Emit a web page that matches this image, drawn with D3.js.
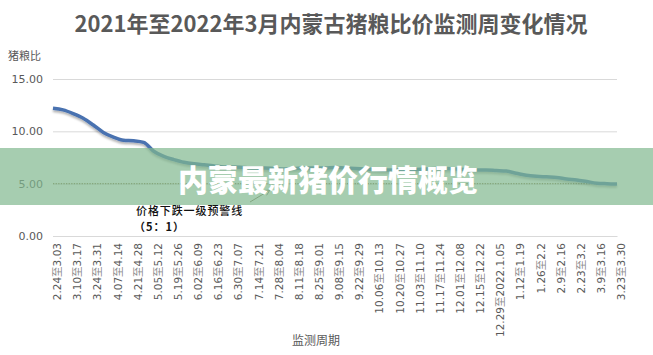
<!DOCTYPE html>
<html>
<head>
<meta charset="utf-8">
<script src="https://cdn.jsdelivr.net/npm/d3@7"></script>
<style>
  html, body { margin: 0; padding: 0; background: #fff; }
  svg { display: block; }
</style>
</head>
<body>
<svg id="chart" width="653" height="355"></svg>
<script>
// Weekly monitoring periods, 2021-02-24 to 2022-03-30
const weeks = [
  "2.24至3.03", "3.03至3.10", "3.10至3.17", "3.17至3.24", "3.24至3.31", "3.31至4.07",
  "4.07至4.14", "4.14至4.21", "4.21至4.28", "4.28至5.05", "5.05至5.12", "5.12至5.19",
  "5.19至5.26", "5.26至6.02", "6.02至6.09", "6.09至6.16", "6.16至6.23", "6.23至6.30",
  "6.30至7.07", "7.07至7.14", "7.14至7.21", "7.21至7.28", "7.28至8.04", "8.04至8.11",
  "8.11至8.18", "8.18至8.25", "8.25至9.01", "9.01至9.08", "9.08至9.15", "9.15至9.22",
  "9.22至9.29", "9.29至10.06", "10.06至10.13", "10.13至10.20", "10.20至10.27", "10.27至11.03",
  "11.03至11.10", "11.10至11.17", "11.17至11.24", "11.24至12.01", "12.01至12.08", "12.08至12.15",
  "12.15至12.22", "12.22至12.29", "12.29至2022.1.05", "1.05至1.12", "1.12至1.19", "1.19至1.26",
  "1.26至2.2", "2.2至2.9", "2.9至2.16", "2.16至2.23", "2.23至3.2", "3.2至3.9",
  "3.9至3.16", "3.16至3.23", "3.23至3.30"
];

// Hog-to-grain price ratio per week
const ratio = [
  12.2, 12.05, 11.7, 11.25, 10.6, 9.9,
  9.45, 9.15, 9.1, 8.95, 8.1, 7.6,
  7.3, 7.05, 6.9, 6.8, 6.7, 6.6,
  6.6, 6.55, 6.5, 6.5, 6.45, 6.4,
  6.45, 6.5, 6.5, 6.5, 6.55, 6.5,
  6.45, 6.4, 6.35, 6.3, 6.3, 6.3,
  6.35, 6.4, 6.45, 6.45, 6.4, 6.35,
  6.3, 6.3, 6.25, 6.2, 6.0, 5.8,
  5.7, 5.65, 5.6, 5.45, 5.35, 5.2,
  5.05, 5.0, 4.97
];

// First-level price-decline warning line (5:1)
const warningLevel = 5;

// Axis ticks
const yTicks = [0, 5, 10, 15];
const xTickLabels = weeks.filter((d, i) => i % 2 === 0);

const title = "2021年至2022年3月内蒙古猪粮比价监测周变化情况";
const yAxisTitle = "猪粮比";
const xAxisTitle = "监测周期";
const warningText = ["价格下跌一级预警线", "（5：1）"];
const bannerText = "内蒙最新猪价行情概览";

const svg = d3.select("#chart");
const W = 653, H = 355;
const cjk = "'Noto Sans CJK SC', 'Noto Sans', sans-serif";
const latin = "'DejaVu Sans', 'Noto Sans CJK SC', sans-serif";

const x = d3.scalePoint().domain(weeks).range([53, 617]);
const y = d3.scaleLinear().domain([0, 15]).range([236, 79]);

const defs = svg.append("defs");
const shadow = defs.append("filter").attr("id", "lineShadow")
  .attr("x", "-5%").attr("y", "-20%").attr("width", "110%").attr("height", "140%");
shadow.append("feDropShadow").attr("dx", 0).attr("dy", 2).attr("stdDeviation", 1.2)
  .attr("flood-color", "#000").attr("flood-opacity", 0.3);

const marker = defs.append("marker").attr("id", "arrow")
  .attr("viewBox", "0 0 10 10").attr("refX", 9).attr("refY", 5)
  .attr("markerWidth", 7).attr("markerHeight", 7).attr("orient", "auto");
marker.append("path").attr("d", "M1,1 L9,5 L1,9").attr("fill", "none")
  .attr("stroke", "#8a7d62").attr("stroke-width", 1.2);

// Title
svg.append("text")
  .attr("x", 331).attr("y", 32)
  .attr("text-anchor", "middle")
  .attr("font-family", cjk).attr("font-weight", 700).attr("font-size", 22)
  .attr("fill", "#595959")
  .text(title);

// Y axis title
svg.append("text")
  .attr("x", 8).attr("y", 60)
  .attr("font-family", cjk).attr("font-size", 11)
  .attr("fill", "#595959")
  .text(yAxisTitle);

// Y axis with gridlines
const yAxis = svg.append("g")
  .attr("transform", "translate(53,0)")
  .call(d3.axisLeft(y).tickValues(yTicks).tickFormat(d3.format(".2f"))
    .tickSize(-(617 - 53)).tickPadding(10));
yAxis.select(".domain").remove();
yAxis.selectAll(".tick line").attr("stroke", "#d9d9d9").attr("stroke-width", 1);
yAxis.selectAll(".tick text")
  .attr("font-family", latin).attr("font-size", 11).attr("fill", "#595959");

// X axis (category labels on alternate weeks)
const xAxis = svg.append("g")
  .attr("transform", `translate(0,${y(0)})`)
  .call(d3.axisBottom(x).tickValues(xTickLabels).tickSize(0).tickFormat(""));
xAxis.select(".domain").attr("stroke", "#d9d9d9");
xAxis.selectAll(".tick").each(function (d) {
  const parts = d.split("至");
  const t = d3.select(this).append("text")
    .attr("transform", "translate(4,7) rotate(-90)")
    .attr("text-anchor", "end")
    .attr("dy", "0.35em")
    .attr("font-family", latin).attr("font-size", 10.5)
    .attr("fill", "#595959");
  t.append("tspan").text(parts[0]);
  t.append("tspan").attr("font-family", cjk).attr("fill", "#8c8c8c").text("至");
  t.append("tspan").text(parts[1]);
});

// X axis title
svg.append("text")
  .attr("x", 316).attr("y", 345)
  .attr("text-anchor", "middle")
  .attr("font-family", cjk).attr("font-size", 12)
  .attr("fill", "#595959")
  .text(xAxisTitle);

// Warning line at 5:1
svg.append("line")
  .attr("x1", x(weeks[0])).attr("x2", x(weeks[weeks.length - 1]))
  .attr("y1", y(warningLevel)).attr("y2", y(warningLevel))
  .attr("stroke", "#8f7f52").attr("stroke-width", 1.3)
  .attr("stroke-dasharray", "1.3,1.3");

// Ratio line
const line = d3.line()
  .x((d, i) => x(weeks[i]))
  .y(d => y(d))
  .curve(d3.curveMonotoneX);
svg.append("path")
  .datum(ratio)
  .attr("d", line)
  .attr("fill", "none")
  .attr("stroke", "#4a72b0")
  .attr("stroke-width", 3.5)
  .attr("stroke-linejoin", "round")
  .attr("filter", "url(#lineShadow)");

// Warning-line annotation
const ann = svg.append("text")
  .attr("font-family", cjk).attr("font-size", 11).attr("fill", "#111");
ann.append("tspan").attr("x", 136).attr("y", 215)
  .attr("letter-spacing", 0.9).attr("font-weight", 500).text(warningText[0]);
ann.append("tspan").attr("x", 134).attr("y", 231)
  .attr("font-weight", 700).attr("letter-spacing", 1).text(warningText[1]);
svg.append("line")
  .attr("x1", 250).attr("y1", 202).attr("x2", 270).attr("y2", 190)
  .attr("stroke", "#8a7d62").attr("stroke-width", 1)
  .attr("marker-end", "url(#arrow)");

// Headline banner across the chart
svg.append("rect")
  .attr("x", 0).attr("y", 148).attr("width", W).attr("height", 57)
  .attr("fill", "rgb(128,184,142)").attr("fill-opacity", 0.7);
svg.append("text")
  .attr("x", 178).attr("y", 191)
  .attr("font-family", cjk).attr("font-weight", 900).attr("font-size", 30)
  .attr("fill", "#ffffff")
  .text(bannerText);
</script>
</body>
</html>
